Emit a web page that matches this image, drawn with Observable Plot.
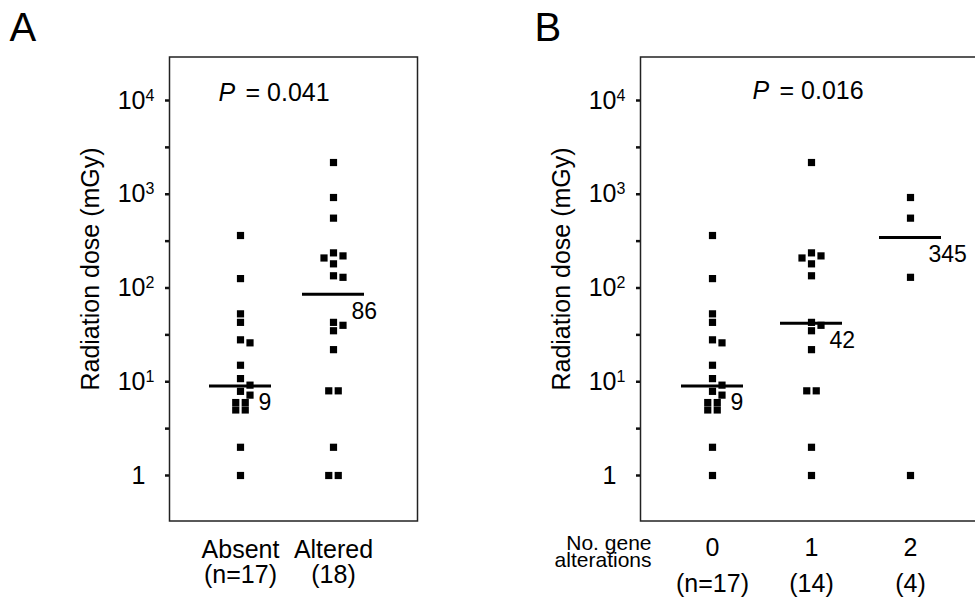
<!DOCTYPE html>
<html><head><meta charset="utf-8">
<script src="https://cdn.jsdelivr.net/npm/d3@7"></script>
<script src="https://cdn.jsdelivr.net/npm/@observablehq/plot@0.6"></script>
<style>
html,body{margin:0;padding:0;background:#fff;overflow:hidden;}
#wrap{position:relative;width:975px;height:607px;overflow:hidden;background:#fff;}
#panelA{position:absolute;left:0;top:0;width:470px;height:607px;}
#panelB{position:absolute;left:470px;top:0;width:530px;height:607px;}
#wrap svg{max-width:none !important;}
svg [aria-label="y-axis tick"] path, svg [aria-label="y-axis"] line {stroke-width:2.5px;stroke:#111;}
</style></head><body><div id="wrap"><div id="panelA"></div><div id="panelB"></div></div>
<script>
// ---- data ----
const panelLetters = ["A", "B"];
const yLabel = "Radiation dose (mGy)";
const majorTicks = [1, 10, 100, 1000, 10000];
const minorTicks = [3.162, 31.62, 316.2, 3162];
const absentDose = [363, 126, 53, 43, 28, 26, 15, 10.8, 9.2, 7.9, 7.2, 6, 6, 5, 5, 2, 1];
const oneAlterationDose = [2180, 237, 220, 209, 181, 135, 43, 40, 35, 22, 8, 8, 2, 1];
const twoAlterationDose = [923, 556, 130, 1];
const groupsA = ["Absent", "Altered"];
const countsA = ["(n=17)", "(18)"];
const groupsB = ["0", "1", "2"];
const countsB = ["(n=17)", "(14)", "(4)"];
const xTitleB = ["No. gene", "alterations"];
const pValues = ["0.041", "0.016"];
const mediansA = [9, 86];
const mediansB = [9, 42, 345];

const FONT = "'Liberation Sans', Arial, Helvetica, sans-serif";
const pxPerDecade = (475 - 100) / 4;
const SQ = 7.2;      // square side, px
const STEP = 9.5;    // horizontal dodge step, px

function dodge(values) {
  const placed = [];
  values.forEach(v => {
    const yp = -Math.log10(v) * pxPerDecade;
    for (const k of [0, 1, -1, 2, -2, 3, -3]) {
      const xp = k * STEP;
      if (!placed.some(p => Math.abs(p.yp - yp) < SQ - 0.2 && Math.abs(p.xp - xp) < SQ)) {
        placed.push({v, yp, xp});
        break;
      }
    }
  });
  const byV = d3.group(placed, p => p.v);
  for (const [, arr] of byV) {
    if (arr.length === 2) {
      const xs = arr.map(p => p.xp).sort((a, b) => a - b);
      if (xs[0] === 0 && xs[1] === STEP) { arr[0].xp = -STEP / 2; arr[1].xp = STEP / 2; }
    }
  }
  return placed;
}

function panel({width, marginLeft, marginRight, xRange, groups, counts, series, medians,
                letter, letterDx, pValue, pDx, pDy, catDy, countDy, xTitle}) {
  const n = groups.length;
  const pxPerUnit = (xRange[1] - xRange[0]) / (n - 1);
  const points = [];
  series.forEach((vals, g) => dodge(vals).forEach(p => points.push({x: g + p.xp / pxPerUnit, dose: p.v})));
  const hw = 31 / pxPerUnit;
  const med = medians.map((m, g) => ({g, value: m, label: String(m)}));
  const marks = [
    Plot.frame({stroke: "#222", strokeWidth: 1.5}),
    Plot.text(majorTicks, {y: d => d, text: d => d === 1 ? "1" : "10", frameAnchor: "left", textAnchor: "end", lineAnchor: "middle", dx: -24}),
    Plot.text(majorTicks.filter(d => d > 1), {y: d => d, text: d => String(Math.round(Math.log10(d))), frameAnchor: "left", textAnchor: "start", lineAnchor: "middle", dx: -24, dy: -5, fontSize: 16}),
    Plot.text([yLabel], {text: d => d, frameAnchor: "left", textAnchor: "middle", lineAnchor: "middle", rotate: -90, dx: -79, dy: -20}),
    Plot.text([letter], {text: d => d, frameAnchor: "top-left", textAnchor: "start", lineAnchor: "top", dx: letterDx, dy: -44, fontSize: 40}),
    Plot.text(["P"], {text: d => d, frameAnchor: "top-left", textAnchor: "start", lineAnchor: "bottom", dx: pDx, dy: pDy, fontStyle: "italic"}),
    Plot.text([pValue], {text: d => "= " + d, frameAnchor: "top-left", textAnchor: "start", lineAnchor: "bottom", dx: pDx + 27, dy: pDy}),
    Plot.dot(points, {x: "x", y: "dose", symbol: "square", r: SQ / Math.sqrt(Math.PI), fill: "black", stroke: "none"}),
    Plot.ruleY(med, {y: "value", x1: d => d.g - hw, x2: d => d.g + hw, stroke: "black", strokeWidth: 3}),
    Plot.text(med, {x: d => d.g + hw, y: "value", text: "label", textAnchor: "start", lineAnchor: "middle", dx: -13, dy: 17, fontSize: 23}),
    Plot.text(groups, {x: (d, i) => i, text: d => d, frameAnchor: "bottom", lineAnchor: "bottom", dy: catDy}),
    Plot.text(counts, {x: (d, i) => i, text: d => d, frameAnchor: "bottom", lineAnchor: "bottom", dy: countDy})
  ];
  if (xTitle) marks.push(Plot.text([xTitle.join("\n")], {text: d => d, frameAnchor: "bottom-left", textAnchor: "end", lineAnchor: "bottom", dx: 11, dy: 45.5, lineHeight: 0.78, fontSize: 21}));
  return Plot.plot({
    width, height: 607,
    marginTop: 56.5, marginBottom: 607 - 520.5, marginLeft, marginRight,
    style: {fontFamily: FONT, fontSize: "25px", background: "white", color: "black", overflow: "visible", maxWidth: "none"},
    x: {domain: [0, n - 1], range: xRange, axis: null},
    y: {type: "log", domain: [1, 10000], range: [475, 100], ticks: [...majorTicks, ...minorTicks].sort((a, b) => a - b), tickSize: 4, tickFormat: () => "", label: null},
    marks
  });
}

document.getElementById("panelA").appendChild(panel({
  width: 470, marginLeft: 169, marginRight: 470 - 417, xRange: [240, 333],
  groups: groupsA, counts: countsA, series: [absentDose, oneAlterationDose.concat(twoAlterationDose)],
  medians: mediansA, letter: panelLetters[0], letterDx: -160, pValue: pValues[0], pDx: 49, pDy: 43.5,
  catDy: 36.5, countDy: 62
}));
document.getElementById("panelB").appendChild(panel({
  width: 530, marginLeft: 170, marginRight: 0, xRange: [242, 440],
  groups: groupsB, counts: countsB, series: [absentDose, oneAlterationDose, twoAlterationDose],
  medians: mediansB, letter: panelLetters[1], letterDx: -106, pValue: pValues[1], pDx: 112, pDy: 42,
  catDy: 34.5, countDy: 70.5, xTitle: xTitleB
}));
</script></body></html>
